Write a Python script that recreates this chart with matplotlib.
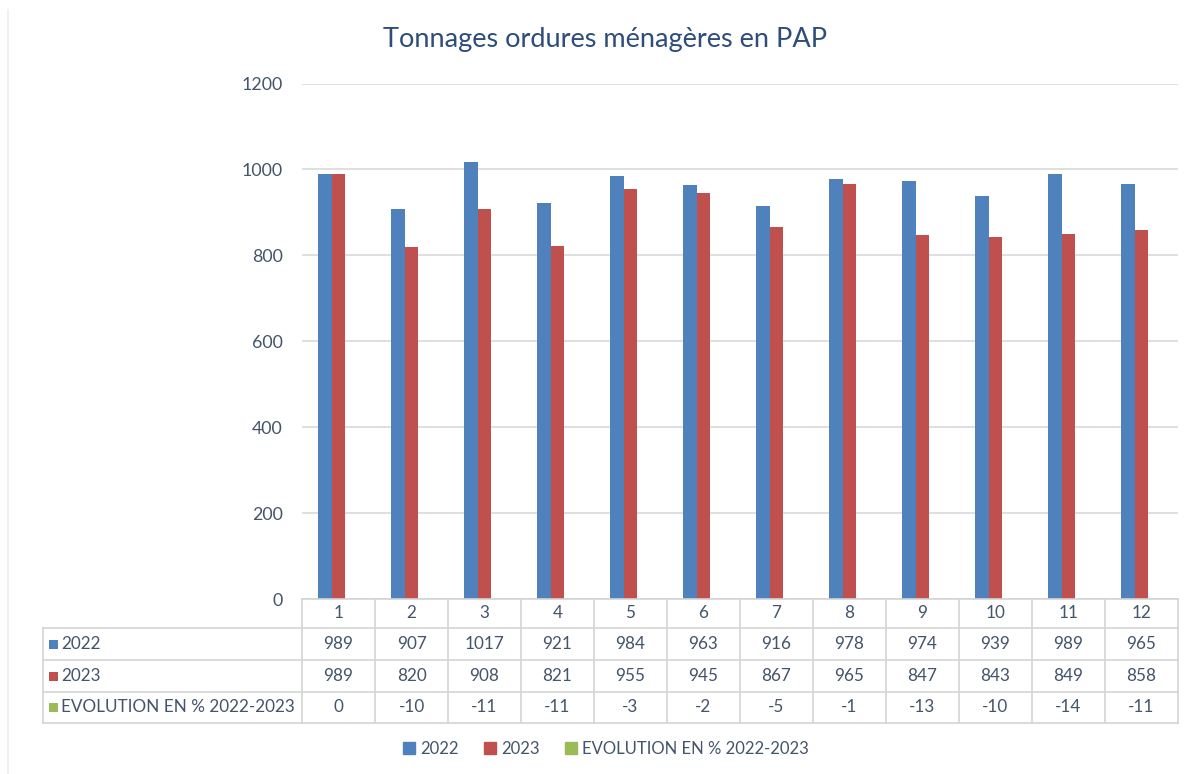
import numpy as np
import matplotlib
matplotlib.use('Agg')
import matplotlib.pyplot as plt
from matplotlib.lines import Line2D
from matplotlib.patches import Rectangle, Patch
from matplotlib.transforms import blended_transform_factory

plt.rcParams['font.family'] = ['Lato', 'DejaVu Sans']

months = ['1', '2', '3', '4', '5', '6', '7', '8', '9', '10', '11', '12']
tonnes_2022 = [989, 907, 1017, 921, 984, 963, 916, 978, 974, 939, 989, 965]
tonnes_2023 = [989, 820, 908, 821, 955, 945, 867, 965, 847, 843, 849, 858]
evolution = [0, -10, -11, -11, -3, -2, -5, -1, -13, -10, -14, -11]
series_names = ['2022', '2023', 'EVOLUTION EN % 2022-2023']
colors = ['#4F81BD', '#C0504D', '#9BBB59']

text_col = '#44546A'
title_col = '#2E4D7B'
grid_col = '#D9D9D9'
W, H = 1196, 774

fig = plt.figure(figsize=(W / 100, H / 100), dpi=100)
ax = fig.add_axes([302 / W, 175 / H, 876 / W, 515.5 / H])

x = np.arange(len(months))
bw = 0.19
for k, vals in enumerate([tonnes_2022, tonnes_2023, evolution]):
    ax.bar(x + (k - 1) * bw, vals, width=bw, color=colors[k], zorder=3)

ax.set_xlim(-0.5, len(months) - 0.5)
ax.set_ylim(0, 1200)
ax.set_yticks(np.arange(0, 1201, 200))
ax.yaxis.grid(True, color=grid_col, linewidth=1.2, zorder=0)
ax.tick_params(axis='y', length=0, pad=14, labelsize=12.8, labelcolor=text_col)
ax.tick_params(axis='x', length=0, labelbottom=False)
for s in ax.spines.values():
    s.set_visible(False)

fig.text(605 / W, 1 - 40 / H, 'Tonnages ordures ménagères en PAP',
         ha='center', va='center', fontsize=19.5, color=title_col)

# data table below the plot
tr = blended_transform_factory(ax.transData, fig.transFigure)
def fy(py):
    return 1 - py / H
rows_y = [599, 628, 660, 692, 723]
line_col = '#D4D4D4'
left_px = 43 / W
right_x = len(months) - 0.5

fig.add_artist(Line2D([-0.5, right_x], [fy(rows_y[0])] * 2, transform=tr, color=line_col, lw=1.2))
for py in rows_y[1:]:
    fig.add_artist(Line2D([left_px, 1178 / W], [fy(py)] * 2, transform=fig.transFigure, color=line_col, lw=1.2))
fig.add_artist(Line2D([left_px, left_px], [fy(rows_y[1]), fy(rows_y[-1])], transform=fig.transFigure, color=line_col, lw=1.2))
for b in np.arange(-0.5, len(months), 1.0):
    fig.add_artist(Line2D([b, b], [fy(rows_y[0]), fy(rows_y[-1])], transform=tr, color=line_col, lw=1.2))

mid = lambda r: fy((rows_y[r] + rows_y[r + 1]) / 2)
for i, m in enumerate(months):
    fig.text(i, mid(0), m, transform=tr, ha='center', va='center', fontsize=12.3, color=text_col)
for r, vals in enumerate([tonnes_2022, tonnes_2023, evolution]):
    y = mid(r + 1)
    for i, v in enumerate(vals):
        fig.text(i, y, str(v), transform=tr, ha='center', va='center', fontsize=12.3, color=text_col)
    fig.add_artist(Rectangle((49 / W, y - 4.5 / H), 9 / W, 9 / H, transform=fig.transFigure,
                             color=colors[r], lw=0))
    fig.text(61 / W, y, series_names[r], ha='left', va='center', fontsize=12.3, color=text_col)

handles = [Patch(color=c) for c in colors]
fig.legend(handles, series_names, loc='center', bbox_to_anchor=(606 / W, 1 - 749 / H), ncol=3,
           frameon=False, handlelength=0.7, handleheight=0.7, handletextpad=0.35,
           columnspacing=1.5, labelcolor=text_col, fontsize=12)

fig.add_artist(Line2D([8 / W, 8 / W], [0, 1 - 10 / H], transform=fig.transFigure, color='#EFEFEF', lw=1.2))

fig.savefig('out.png', dpi=100)
